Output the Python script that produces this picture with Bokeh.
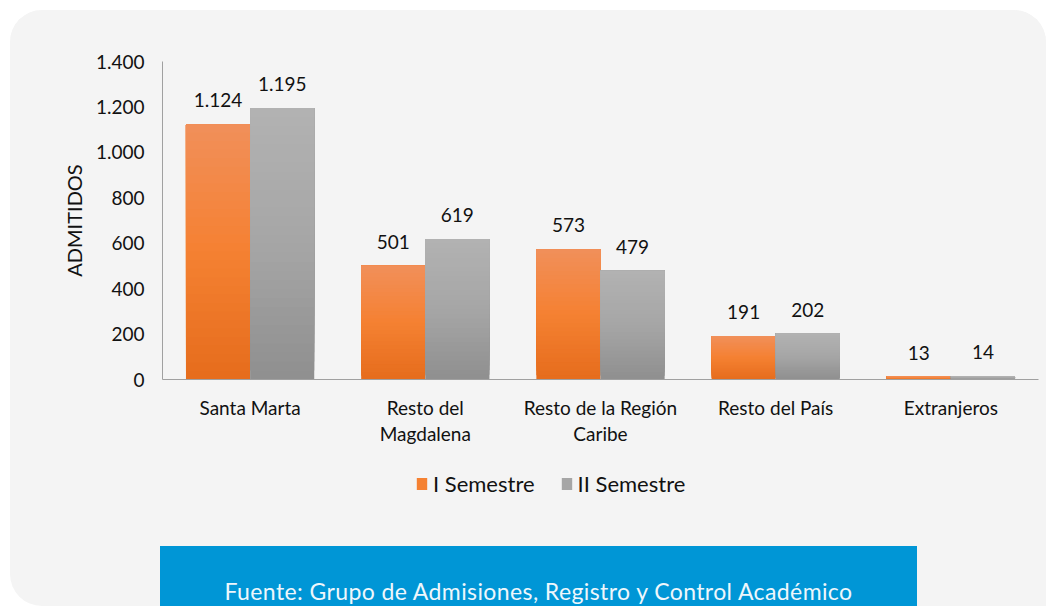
from bokeh.plotting import figure
from bokeh.layouts import column
from bokeh.models import (ColumnDataSource, Range1d, LabelSet, Legend, LegendItem,
                          FixedTicker, LinearAxis, Div)
from bokeh.transform import dodge
from bokeh.core.properties import value
from bokeh.embed import file_html
from bokeh.resources import INLINE

# ---------------- data ----------------
categories = ["Santa Marta", "Resto del Magdalena", "Resto de la Región Caribe",
              "Resto del País", "Extranjeros"]
label_line_1 = ["Santa Marta", "Resto del", "Resto de la Región", "Resto del País", "Extranjeros"]
label_line_2 = ["", "Magdalena", "Caribe", "", ""]
semestre_1 = [1124, 501, 573, 191, 13]
semestre_2 = [1195, 619, 479, 202, 14]
series_names = ["I Semestre", "II Semestre"]
y_ticks = [0, 200, 400, 600, 800, 1000, 1200, 1400]
axis_title = "ADMITIDOS"
source_note = "Fuente: Grupo de Admisiones, Registro y Control Académico"

# ---------------- style ----------------
FONT = "Lato"
PANEL = "#f4f4f4"
orange_stops = [(0.0, (241, 143, 90)), (0.5, (245, 129, 50)), (1.0, (229, 108, 28))]
grey_stops = [(0.0, (178, 178, 178)), (0.5, (166, 166, 166)), (1.0, (143, 143, 143))]
BAR_W = 0.366
OFFSETS = [-BAR_W / 2, BAR_W / 2]
N_SEG = 30


def grad(stops, t):
    for (t0, c0), (t1, c1) in zip(stops[:-1], stops[1:]):
        if t <= t1:
            f = (t - t0) / (t1 - t0)
            return "#%02x%02x%02x" % tuple(int(round(a + (b - a) * f)) for a, b in zip(c0, c1))
    return "#%02x%02x%02x" % stops[-1][1]


def fmt(v):
    return f"{v:,}".replace(",", ".")


cat_pos = list(range(len(categories)))   # category slots on the x scale

p = figure(x_range=Range1d(-0.5, len(categories) - 0.5), y_range=Range1d(0, 1400),
           width=1036, height=450, output_backend="svg", toolbar_location=None,
           min_border_left=152, min_border_right=8, min_border_top=51, min_border_bottom=81)
p.background_fill_color = PANEL
p.border_fill_color = PANEL
p.outline_line_color = None
p.grid.grid_line_color = None
p.styles = {"border-radius": "32px 32px 0 0", "overflow": "hidden"}

# bars with vertical gradient (drawn as stacked slices of each bar)
for vals, stops, off in [(semestre_1, orange_stops, OFFSETS[0]),
                         (semestre_2, grey_stops, OFFSETS[1])]:
    xs, bot, top, col = [], [], [], []
    for xp, v in zip(cat_pos, vals):
        for k in range(N_SEG):
            xs.append(xp)
            bot.append(v * k / N_SEG)
            top.append(v)
            col.append(grad(stops, 1 - (k + 0.5) / N_SEG))
    src = ColumnDataSource(dict(x=xs, bottom=bot, top=top, color=col))
    p.vbar(x=dodge("x", off), bottom="bottom", top="top",
           width=BAR_W, fill_color="color", line_color=None, source=src)

    lsrc = ColumnDataSource(dict(x=cat_pos, y=vals, text=[fmt(v) for v in vals]))
    p.add_layout(LabelSet(x=dodge("x", off), y="y", text="text",
                          source=lsrc, y_offset=17, text_align="center",
                          text_baseline="alphabetic", text_font=value(FONT),
                          text_font_size="19px", text_color="#111111"))

# axes
p.yaxis.ticker = FixedTicker(ticks=y_ticks)
p.yaxis.major_label_overrides = {t: fmt(t) for t in y_ticks}
p.xaxis.ticker = FixedTicker(ticks=cat_pos)
p.xaxis.major_label_overrides = dict(zip(cat_pos, label_line_1))
xaxis2 = LinearAxis(ticker=FixedTicker(ticks=cat_pos),
                    major_label_overrides=dict(zip(cat_pos, label_line_2)))
p.add_layout(xaxis2, "below")
for ax in (p.xaxis[0], xaxis2, p.yaxis[0]):
    ax.axis_line_color = "#a0a0a0"
    ax.major_tick_line_color = None
    ax.minor_tick_line_color = None
    ax.major_tick_out = 0
    ax.major_tick_in = 0
    ax.major_label_text_font = FONT
    ax.major_label_text_font_size = "19px"
    ax.major_label_text_color = "#111111"
xaxis2.axis_line_color = None
xaxis2.major_label_standoff = 0
p.yaxis.major_label_standoff = 18
p.xaxis[0].major_label_standoff = 16
p.yaxis.axis_label = axis_title
p.yaxis.axis_label_text_font = FONT
p.yaxis.axis_label_text_font_size = "20px"
p.yaxis.axis_label_text_font_style = "normal"
p.yaxis.axis_label_text_color = "#111111"
p.yaxis.axis_label_standoff = 7

# legend strip (its series glyphs are kept outside the strip's visible y range)
pl = figure(width=1036, height=86, output_backend="svg", toolbar_location=None,
            x_range=Range1d(-0.5, len(categories) - 0.5), y_range=Range1d(5000, 5001),
            x_axis_type=None, y_axis_type=None, min_border=0)
pl.background_fill_color = PANEL
pl.border_fill_color = PANEL
pl.outline_line_color = None
pl.grid.grid_line_color = None
r1 = pl.vbar(x=dodge("x", OFFSETS[0]), top="y", width=BAR_W,
             source=ColumnDataSource(dict(x=cat_pos, y=semestre_1)),
             fill_color=grad(orange_stops, 0.5), line_color=None)
r2 = pl.vbar(x=dodge("x", OFFSETS[1]), top="y", width=BAR_W,
             source=ColumnDataSource(dict(x=cat_pos, y=semestre_2)),
             fill_color=grad(grey_stops, 0.5), line_color=None)
legend = Legend(items=[LegendItem(label=series_names[0], renderers=[r1]),
                       LegendItem(label=series_names[1], renderers=[r2])],
                orientation="horizontal", location=(253, 49),
                glyph_width=13, glyph_height=15, label_standoff=5, spacing=25,
                padding=0, margin=0, border_line_color=None, background_fill_alpha=0,
                label_text_font=FONT, label_text_font_size="22px",
                label_text_color="#111111")
pl.add_layout(legend)

# source box
footer = Div(text=('<div style="width:757px;height:60px;box-sizing:border-box;'
                   'padding-top:34px;text-align:center;font-family:Lato;font-size:23px;'
                   'letter-spacing:0.4px;line-height:22px;color:#eef7fc;white-space:nowrap;">'
                   + source_note + '</div>'),
             width=757, height=60, margin=(0, 0, 0, 150),
             styles={"background-color": "#0096d6"})

root = column(p, pl, footer, margin=(10, 0, 0, 10),
              styles={"background-color": PANEL, "border-radius": "32px 32px 0 32px",
                      "overflow": "hidden"})

open("out.html", "w").write(file_html(root, INLINE))
